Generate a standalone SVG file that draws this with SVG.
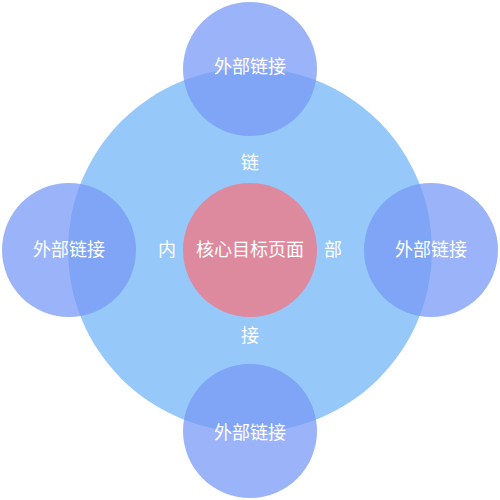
<svg xmlns="http://www.w3.org/2000/svg" width="500" height="500" viewBox="0 0 500 500">
<style>
.ext{fill:#7899F5;fill-opacity:0.74}
.t{font-family:"Liberation Sans","Noto Sans CJK SC",sans-serif;font-size:18px;fill:#ffffff;text-anchor:middle;dominant-baseline:central}
</style>
<rect width="500" height="500" fill="#ffffff"/>
<g id="outer"><circle cx="250" cy="250" r="182" fill="#96C8FA"/></g>
<g id="labels">
<text class="t" x="250" y="163">链</text>
<text class="t" x="167" y="250">内</text>
<text class="t" x="333" y="250">部</text>
<text class="t" x="250" y="336">接</text>
</g>
<g id="core"><circle cx="250" cy="250" r="67" fill="#DE8A9E"/><text class="t" x="250" y="250">核心目标页面</text></g>
<g id="ext-top"><circle class="ext" cx="250" cy="69" r="67"/><text class="t" x="250" y="67">外部链接</text></g>
<g id="ext-left"><circle class="ext" cx="69" cy="250" r="67"/><text class="t" x="69" y="250">外部链接</text></g>
<g id="ext-right"><circle class="ext" cx="431" cy="250" r="67"/><text class="t" x="431" y="250">外部链接</text></g>
<g id="ext-bottom"><circle class="ext" cx="250" cy="431" r="67"/><text class="t" x="250" y="433">外部链接</text></g>
</svg>
